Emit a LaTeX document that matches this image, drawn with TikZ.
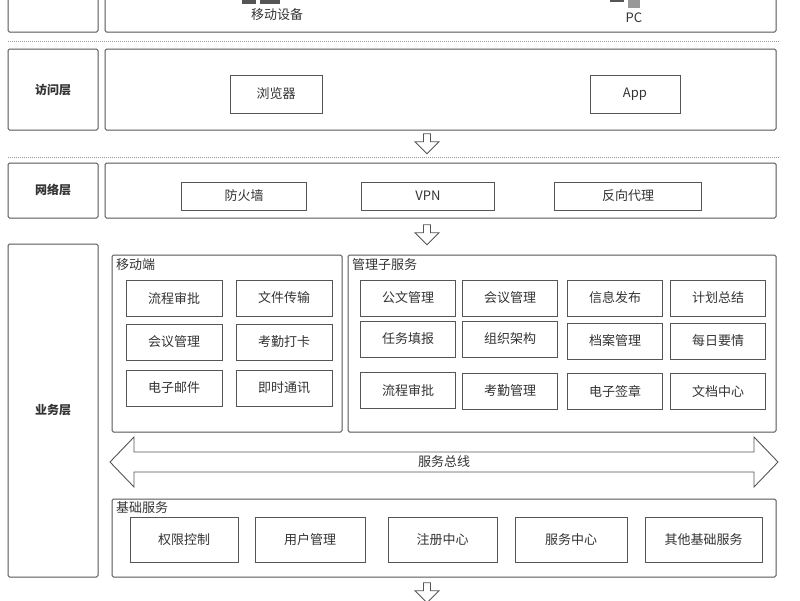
\documentclass[tikz,border=0pt]{standalone}
\usepackage{fontspec}
\setmainfont{Noto Sans CJK SC}
\usetikzlibrary{shapes.arrows}
\definecolor{ln}{HTML}{555555}
\begin{document}
\begin{tikzpicture}[x=1pt,y=-1pt,
 bx/.style={draw=ln,line width=1pt,rounded corners=1.5pt},
 it/.style={draw=ln,line width=0.9pt,font=\fontsize{13}{13}\selectfont,text=black!80},
 lb/.style={font=\fontsize{12}{12}\selectfont\bfseries,text=black!80},
 dn/.style={draw=ln,line width=0.8pt,fill=white,single arrow,shape border rotate=270,minimum width=24pt,minimum height=20pt,single arrow head extend=6pt,inner sep=2pt},
 dsh/.style={draw=ln!60,dash pattern=on 1pt off 1pt,line width=0.6pt}]
\useasboundingbox (0,0) rectangle (800,600);
% top
\draw[bx] (8,-10) rectangle (98,32);
\draw[bx] (105,-10) rectangle (776,32);
\fill[ln] (242,-6) rectangle (256,4); \fill[ln] (260,-6) rectangle (280,4);
\fill[ln] (610,-6) rectangle (624,2); \fill[ln!60] (628,-6) rectangle (640,8);
\node[font=\fontsize{13}{13}\selectfont,text=black!80] (md) at (277,15) {移动设备};
\node[font=\fontsize{13}{13}\selectfont,text=black!80] (pc) at (634,18) {PC};
\draw[dsh] (8,41) -- (780,41);
% access
\draw[bx] (8,49) rectangle (98,130); \node[lb] (l1) at (53,90) {访问层};
\draw[bx] (105,49) rectangle (776,130);
\node[it,minimum width=92pt,minimum height=38pt] (b1) at (276,94) {浏览器};
\node[it,minimum width=90pt,minimum height=38pt] (b2) at (635,94) {App};
\node[dn] (a1) at (427,142) {};
\draw[dsh] (8,157) -- (780,157);
% network
\draw[bx] (8,163) rectangle (98,218); \node[lb] (l2) at (53,190) {网络层};
\draw[bx] (105,163) rectangle (776,218);
\node[it,minimum width=125pt,minimum height=28pt] (n1) at (244,196) {防火墙};
\node[it,minimum width=133pt,minimum height=28pt] (n2) at (428,196) {VPN};
\node[it,minimum width=147pt,minimum height=28pt] (n3) at (628,196) {反向代理};
\node[dn] (a2) at (427,233) {};
% business
\draw[bx] (8,244) rectangle (98,577); \node[lb] (l3) at (53,410) {业务层};
\draw[bx] (112,255) rectangle (342,432);
\node[font=\fontsize{13}{13}\selectfont,anchor=north west,inner sep=1pt,text=black!80] (t1) at (115,257) {移动端};
\foreach \n/\x/\y in {流程审批/174/298,文件传输/284/298,会议管理/174/342,考勤打卡/284/342,电子邮件/174/388,即时通讯/284/388}
  \node[it,minimum width=96pt,minimum height=36pt] (m\x\y) at (\x,\y) {\n};
\draw[bx] (348,255) rectangle (776,432);
\node[font=\fontsize{13}{13}\selectfont,anchor=north west,inner sep=1pt,text=black!80] (t2) at (351,257) {管理子服务};
\foreach \n/\x/\y in {公文管理/408/298,会议管理/510/298,信息发布/615/298,计划总结/718/298,
 任务填报/408/339,组织架构/510/339,档案管理/615/341,每日要情/718/341,
 流程审批/408/390,考勤管理/510/391,电子签章/615/391,文档中心/718/391}
  \node[it,minimum width=95pt,minimum height=36pt] (s\x\y) at (\x,\y) {\n};
\draw[ln,line width=0.9pt,fill=white] (110,462) -- (134,437) -- (134,452) -- (754,452) -- (754,437) -- (778,462) -- (754,487) -- (754,472) -- (134,472) -- (134,487) -- cycle;
\node[font=\fontsize{13}{13}\selectfont,text=black!80] (busl) at (444,462) {服务总线};
\draw[bx] (112,499) rectangle (776,577);
\node[font=\fontsize{13}{13}\selectfont,anchor=north west,inner sep=1pt,text=black!80] (t3) at (115,500) {基础服务};
\foreach \n/\a/\b in {权限控制/130/238,用户管理/255/365,注册中心/388/497,服务中心/515/627,其他基础服务/645/762}
  \node[it,minimum width={\b-\a},minimum height=45pt] (f\a) at ({(\a+\b)/2},540) {\n};
\node[dn] (a3) at (427,591) {};
\end{tikzpicture}
\end{document}
